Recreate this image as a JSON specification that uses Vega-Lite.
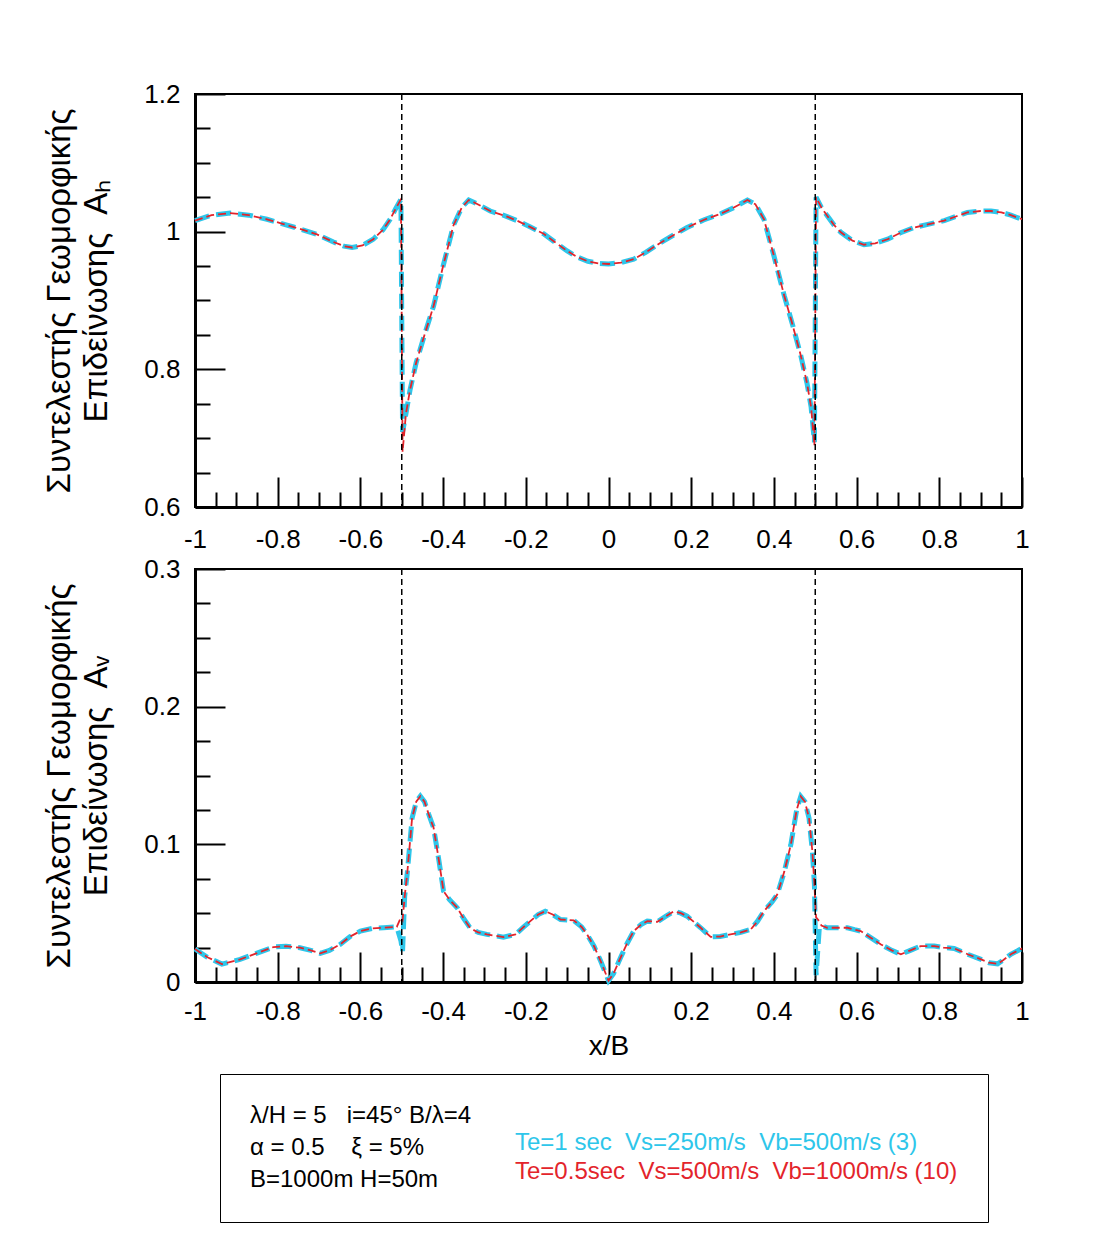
{
  "$schema": "https://vega.github.io/schema/vega-lite/v6.json",
  "background": "white",
  "padding": {"left": 42, "top": 80, "right": 10, "bottom": 10},
  "datasets": {
    "edges": [{"edge": -0.5}, {"edge": 0.5}],
    "ah": [
      {"x": -1.0, "cyan": 1.016, "red": 1.016},
      {"x": -0.96, "cyan": 1.024, "red": 1.024},
      {"x": -0.915, "cyan": 1.027, "red": 1.027},
      {"x": -0.87, "cyan": 1.024, "red": 1.024},
      {"x": -0.826, "cyan": 1.018, "red": 1.018},
      {"x": -0.786, "cyan": 1.011, "red": 1.011},
      {"x": -0.746, "cyan": 1.004, "red": 1.004},
      {"x": -0.705, "cyan": 0.996, "red": 0.996},
      {"x": -0.665, "cyan": 0.985, "red": 0.985},
      {"x": -0.64, "cyan": 0.979, "red": 0.979},
      {"x": -0.62, "cyan": 0.977, "red": 0.977},
      {"x": -0.595, "cyan": 0.98, "red": 0.98},
      {"x": -0.569, "cyan": 0.989, "red": 0.989},
      {"x": -0.545, "cyan": 1.003, "red": 1.003},
      {"x": -0.528, "cyan": 1.018, "red": 1.018},
      {"x": -0.515, "cyan": 1.033, "red": 1.033},
      {"x": -0.502, "cyan": 1.047, "red": 1.047},
      {"x": -0.498, "cyan": 0.709, "red": 0.68},
      {"x": -0.49, "cyan": 0.735, "red": 0.735},
      {"x": -0.48, "cyan": 0.77, "red": 0.77},
      {"x": -0.465, "cyan": 0.81, "red": 0.81},
      {"x": -0.445, "cyan": 0.85, "red": 0.85},
      {"x": -0.423, "cyan": 0.892, "red": 0.892},
      {"x": -0.4, "cyan": 0.95, "red": 0.95},
      {"x": -0.375, "cyan": 1.009, "red": 1.009},
      {"x": -0.355, "cyan": 1.035, "red": 1.035},
      {"x": -0.338, "cyan": 1.046, "red": 1.046},
      {"x": -0.32, "cyan": 1.041, "red": 1.041},
      {"x": -0.286, "cyan": 1.03, "red": 1.03},
      {"x": -0.25, "cyan": 1.023, "red": 1.023},
      {"x": -0.221, "cyan": 1.016, "red": 1.016},
      {"x": -0.19, "cyan": 1.007, "red": 1.007},
      {"x": -0.157, "cyan": 0.997, "red": 0.997},
      {"x": -0.13, "cyan": 0.985, "red": 0.985},
      {"x": -0.1, "cyan": 0.972, "red": 0.972},
      {"x": -0.075, "cyan": 0.963, "red": 0.963},
      {"x": -0.05, "cyan": 0.957, "red": 0.957},
      {"x": -0.025, "cyan": 0.954, "red": 0.954},
      {"x": 0.0, "cyan": 0.953, "red": 0.953},
      {"x": 0.03, "cyan": 0.955, "red": 0.955},
      {"x": 0.061, "cyan": 0.96, "red": 0.96},
      {"x": 0.09, "cyan": 0.97, "red": 0.97},
      {"x": 0.126, "cyan": 0.984, "red": 0.984},
      {"x": 0.16, "cyan": 0.996, "red": 0.996},
      {"x": 0.19, "cyan": 1.006, "red": 1.006},
      {"x": 0.23, "cyan": 1.017, "red": 1.017},
      {"x": 0.271, "cyan": 1.026, "red": 1.026},
      {"x": 0.3, "cyan": 1.034, "red": 1.034},
      {"x": 0.336, "cyan": 1.046, "red": 1.046},
      {"x": 0.355, "cyan": 1.04, "red": 1.04},
      {"x": 0.376, "cyan": 1.018, "red": 1.018},
      {"x": 0.4, "cyan": 0.965, "red": 0.965},
      {"x": 0.425, "cyan": 0.907, "red": 0.907},
      {"x": 0.445, "cyan": 0.865, "red": 0.865},
      {"x": 0.465, "cyan": 0.82, "red": 0.82},
      {"x": 0.48, "cyan": 0.78, "red": 0.78},
      {"x": 0.49, "cyan": 0.745, "red": 0.745},
      {"x": 0.498, "cyan": 0.694, "red": 0.689},
      {"x": 0.502, "cyan": 1.05, "red": 1.05},
      {"x": 0.515, "cyan": 1.035, "red": 1.035},
      {"x": 0.529, "cyan": 1.023, "red": 1.023},
      {"x": 0.545, "cyan": 1.01, "red": 1.01},
      {"x": 0.562, "cyan": 0.999, "red": 0.999},
      {"x": 0.59, "cyan": 0.987, "red": 0.987},
      {"x": 0.618, "cyan": 0.981, "red": 0.981},
      {"x": 0.645, "cyan": 0.983, "red": 0.983},
      {"x": 0.675, "cyan": 0.989, "red": 0.989},
      {"x": 0.705, "cyan": 0.998, "red": 0.998},
      {"x": 0.739, "cyan": 1.006, "red": 1.006},
      {"x": 0.775, "cyan": 1.011, "red": 1.011},
      {"x": 0.812, "cyan": 1.016, "red": 1.016},
      {"x": 0.84, "cyan": 1.022, "red": 1.022},
      {"x": 0.868, "cyan": 1.028, "red": 1.028},
      {"x": 0.9, "cyan": 1.03, "red": 1.03},
      {"x": 0.925, "cyan": 1.03, "red": 1.03},
      {"x": 0.95, "cyan": 1.028, "red": 1.028},
      {"x": 0.973, "cyan": 1.024, "red": 1.024},
      {"x": 1.0, "cyan": 1.018, "red": 1.018}
    ],
    "av": [
      {"x": -1.0, "cyan": 0.024, "red": 0.024},
      {"x": -0.97, "cyan": 0.018, "red": 0.018},
      {"x": -0.935, "cyan": 0.013, "red": 0.013},
      {"x": -0.891, "cyan": 0.0164, "red": 0.0164},
      {"x": -0.85, "cyan": 0.021, "red": 0.021},
      {"x": -0.81, "cyan": 0.0254, "red": 0.0254},
      {"x": -0.78, "cyan": 0.026, "red": 0.026},
      {"x": -0.746, "cyan": 0.0249, "red": 0.0249},
      {"x": -0.72, "cyan": 0.023, "red": 0.023},
      {"x": -0.697, "cyan": 0.0208, "red": 0.0208},
      {"x": -0.675, "cyan": 0.023, "red": 0.023},
      {"x": -0.649, "cyan": 0.0273, "red": 0.0273},
      {"x": -0.625, "cyan": 0.033, "red": 0.033},
      {"x": -0.6, "cyan": 0.037, "red": 0.037},
      {"x": -0.57, "cyan": 0.039, "red": 0.039},
      {"x": -0.544, "cyan": 0.0394, "red": 0.0394},
      {"x": -0.512, "cyan": 0.04, "red": 0.04},
      {"x": -0.502, "cyan": 0.03, "red": 0.047},
      {"x": -0.498, "cyan": 0.022, "red": 0.045},
      {"x": -0.493, "cyan": 0.062, "red": 0.062},
      {"x": -0.487, "cyan": 0.078, "red": 0.078},
      {"x": -0.475, "cyan": 0.119, "red": 0.119},
      {"x": -0.465, "cyan": 0.131, "red": 0.131},
      {"x": -0.455, "cyan": 0.135, "red": 0.135},
      {"x": -0.445, "cyan": 0.131, "red": 0.131},
      {"x": -0.435, "cyan": 0.122, "red": 0.122},
      {"x": -0.423, "cyan": 0.112, "red": 0.112},
      {"x": -0.41, "cyan": 0.088, "red": 0.088},
      {"x": -0.399, "cyan": 0.066, "red": 0.066},
      {"x": -0.385, "cyan": 0.06, "red": 0.06},
      {"x": -0.366, "cyan": 0.054, "red": 0.054},
      {"x": -0.35, "cyan": 0.046, "red": 0.046},
      {"x": -0.334, "cyan": 0.039, "red": 0.039},
      {"x": -0.315, "cyan": 0.036, "red": 0.036},
      {"x": -0.294, "cyan": 0.0346, "red": 0.0346},
      {"x": -0.254, "cyan": 0.0326, "red": 0.0326},
      {"x": -0.225, "cyan": 0.0346, "red": 0.0346},
      {"x": -0.205, "cyan": 0.04, "red": 0.04},
      {"x": -0.189, "cyan": 0.0442, "red": 0.0442},
      {"x": -0.17, "cyan": 0.049, "red": 0.049},
      {"x": -0.153, "cyan": 0.0514, "red": 0.0514},
      {"x": -0.135, "cyan": 0.049, "red": 0.049},
      {"x": -0.116, "cyan": 0.0454, "red": 0.0454},
      {"x": -0.084, "cyan": 0.0447, "red": 0.0447},
      {"x": -0.065, "cyan": 0.04, "red": 0.04},
      {"x": -0.052, "cyan": 0.0346, "red": 0.0346},
      {"x": -0.035, "cyan": 0.026, "red": 0.026},
      {"x": -0.019, "cyan": 0.0152, "red": 0.0152},
      {"x": 0.0, "cyan": 0.001, "red": 0.001},
      {"x": 0.012, "cyan": 0.006, "red": 0.006},
      {"x": 0.029, "cyan": 0.0176, "red": 0.0176},
      {"x": 0.045, "cyan": 0.028, "red": 0.028},
      {"x": 0.061, "cyan": 0.037, "red": 0.037},
      {"x": 0.08, "cyan": 0.042, "red": 0.042},
      {"x": 0.094, "cyan": 0.0442, "red": 0.0442},
      {"x": 0.118, "cyan": 0.0437, "red": 0.0437},
      {"x": 0.14, "cyan": 0.048, "red": 0.048},
      {"x": 0.158, "cyan": 0.0514, "red": 0.0514},
      {"x": 0.175, "cyan": 0.05, "red": 0.05},
      {"x": 0.19, "cyan": 0.0478, "red": 0.0478},
      {"x": 0.205, "cyan": 0.044, "red": 0.044},
      {"x": 0.223, "cyan": 0.0394, "red": 0.0394},
      {"x": 0.247, "cyan": 0.0328, "red": 0.0328},
      {"x": 0.27, "cyan": 0.033, "red": 0.033},
      {"x": 0.295, "cyan": 0.0346, "red": 0.0346},
      {"x": 0.32, "cyan": 0.036, "red": 0.036},
      {"x": 0.344, "cyan": 0.0382, "red": 0.0382},
      {"x": 0.36, "cyan": 0.044, "red": 0.044},
      {"x": 0.376, "cyan": 0.0514, "red": 0.0514},
      {"x": 0.395, "cyan": 0.058, "red": 0.058},
      {"x": 0.408, "cyan": 0.0635, "red": 0.0635},
      {"x": 0.425, "cyan": 0.08, "red": 0.08},
      {"x": 0.441, "cyan": 0.0998, "red": 0.0998},
      {"x": 0.455, "cyan": 0.125, "red": 0.125},
      {"x": 0.465, "cyan": 0.1348, "red": 0.1348},
      {"x": 0.475, "cyan": 0.131, "red": 0.131},
      {"x": 0.485, "cyan": 0.119, "red": 0.119},
      {"x": 0.493, "cyan": 0.095, "red": 0.095},
      {"x": 0.498, "cyan": 0.0708, "red": 0.0708},
      {"x": 0.502, "cyan": 0.005, "red": 0.047},
      {"x": 0.51, "cyan": 0.04, "red": 0.044},
      {"x": 0.515, "cyan": 0.041, "red": 0.041},
      {"x": 0.529, "cyan": 0.0394, "red": 0.0394},
      {"x": 0.555, "cyan": 0.0394, "red": 0.0394},
      {"x": 0.578, "cyan": 0.0394, "red": 0.0394},
      {"x": 0.595, "cyan": 0.038, "red": 0.038},
      {"x": 0.61, "cyan": 0.037, "red": 0.037},
      {"x": 0.635, "cyan": 0.032, "red": 0.032},
      {"x": 0.659, "cyan": 0.0273, "red": 0.0273},
      {"x": 0.685, "cyan": 0.023, "red": 0.023},
      {"x": 0.707, "cyan": 0.0201, "red": 0.0201},
      {"x": 0.73, "cyan": 0.023, "red": 0.023},
      {"x": 0.755, "cyan": 0.0261, "red": 0.0261},
      {"x": 0.788, "cyan": 0.0261, "red": 0.0261},
      {"x": 0.81, "cyan": 0.025, "red": 0.025},
      {"x": 0.836, "cyan": 0.0244, "red": 0.0244},
      {"x": 0.87, "cyan": 0.02, "red": 0.02},
      {"x": 0.901, "cyan": 0.0164, "red": 0.0164},
      {"x": 0.92, "cyan": 0.014, "red": 0.014},
      {"x": 0.941, "cyan": 0.0132, "red": 0.0132},
      {"x": 0.955, "cyan": 0.016, "red": 0.016},
      {"x": 0.973, "cyan": 0.0201, "red": 0.0201},
      {"x": 1.0, "cyan": 0.0244, "red": 0.0244}
    ]
  },
  "vconcat": [
    {
      "width": 827,
      "height": 413,
      "data": {"name": "ah"},
      "layer": [
        {
          "mark": {"type": "line", "strokeWidth": 5, "strokeDash": [15, 7]},
          "encoding": {
            "x": {"field": "x", "type": "quantitative", "scale": {"domain": [-1, 1], "nice": false, "zero": false},
              "axis": {"orient": "bottom", "title": null, "values": [-1, -0.8, -0.6, -0.4, -0.2, 0, 0.2, 0.4, 0.6, 0.8, 1], "tickSize": -30, "labelPadding": 49, "labelExpr": "'' + datum.value"}},
            "y": {"field": "cyan", "type": "quantitative", "scale": {"domain": [0.6, 1.2], "nice": false, "zero": false},
              "axis": {"orient": "left", "title": ["Συντελεστής Γεωμορφικής", "Επιδείνωσης\u00a0 Aₕ"], "titleFontSize": 33, "titleLineHeight": 37, "titlePadding": 30, "values": [0.6, 0.8, 1, 1.2], "tickSize": -30, "labelPadding": 45, "labelExpr": "'' + datum.value"}},
            "color": {"datum": "Te=1 sec\u00a0 Vs=250m/s\u00a0 Vb=500m/s (3)", "type": "nominal",
              "scale": {"domain": ["Te=1 sec\u00a0 Vs=250m/s\u00a0 Vb=500m/s (3)", "Te=0.5sec\u00a0 Vs=500m/s\u00a0 Vb=1000m/s (10)"], "range": ["#2EC6EA", "#E3242B"]},
              "legend": {
                "title": ["λ/H = 5\u00a0\u00a0 i=45° B/λ=4", "α = 0.5\u00a0\u00a0\u00a0 ξ = 5%", "B=1000m H=50m"],
                "orient": "none", "legendX": 25, "legendY": 980,
                "encode": {"labels": {"update": {"fill": {"scale": "color", "field": "value"}, "dy": {"signal": "datum.index === 0 ? 27 : 5"}}}}
              }}
          }
        },
        {
          "mark": {"type": "line", "strokeWidth": 1.8, "strokeDash": [8, 4]},
          "encoding": {
            "x": {"field": "x", "type": "quantitative",
              "axis": {"orient": "bottom", "title": null, "values": [-0.95, -0.9, -0.85, -0.75, -0.7, -0.65, -0.55, -0.5, -0.45, -0.35, -0.3, -0.25, -0.15, -0.1, -0.05, 0.05, 0.1, 0.15, 0.25, 0.3, 0.35, 0.45, 0.5, 0.55, 0.65, 0.7, 0.75, 0.85, 0.9, 0.95], "tickSize": -15, "labels": false, "domain": false}},
            "y": {"field": "red", "type": "quantitative",
              "axis": {"orient": "left", "title": null, "values": [0.65, 0.7, 0.75, 0.85, 0.9, 0.95, 1.05, 1.1, 1.15], "tickSize": -15, "labels": false, "domain": false}},
            "color": {"datum": "Te=0.5sec\u00a0 Vs=500m/s\u00a0 Vb=1000m/s (10)", "type": "nominal"}
          }
        },
        {
          "data": {"name": "edges"},
          "mark": {"type": "rule", "color": "black", "strokeWidth": 1.5, "strokeDash": [6, 4]},
          "encoding": {"x": {"field": "edge", "type": "quantitative", "axis": null}}
        }
      ],
      "resolve": {"axis": {"x": "independent", "y": "independent"}}
    },
    {
      "width": 827,
      "height": 413,
      "data": {"name": "av"},
      "layer": [
        {
          "mark": {"type": "line", "strokeWidth": 5, "strokeDash": [15, 7]},
          "encoding": {
            "x": {"field": "x", "type": "quantitative", "scale": {"domain": [-1, 1], "nice": false, "zero": false},
              "axis": {"orient": "bottom", "title": "x/B", "titleFontSize": 28, "titlePadding": 8, "values": [-1, -0.8, -0.6, -0.4, -0.2, 0, 0.2, 0.4, 0.6, 0.8, 1], "tickSize": -30, "labelPadding": 46, "labelExpr": "'' + datum.value"}},
            "y": {"field": "cyan", "type": "quantitative", "scale": {"domain": [0, 0.3], "nice": false, "zero": false},
              "axis": {"orient": "left", "title": ["Συντελεστής Γεωμορφικής", "Επιδείνωσης\u00a0 Aᵥ"], "titleFontSize": 33, "titleLineHeight": 37, "titlePadding": 30, "values": [0, 0.1, 0.2, 0.3], "tickSize": -30, "labelPadding": 45, "labelExpr": "'' + datum.value"}},
            "color": {"datum": "Te=1 sec\u00a0 Vs=250m/s\u00a0 Vb=500m/s (3)", "type": "nominal"}
          }
        },
        {
          "mark": {"type": "line", "strokeWidth": 1.8, "strokeDash": [8, 4]},
          "encoding": {
            "x": {"field": "x", "type": "quantitative",
              "axis": {"orient": "bottom", "title": null, "values": [-0.95, -0.9, -0.85, -0.75, -0.7, -0.65, -0.55, -0.5, -0.45, -0.35, -0.3, -0.25, -0.15, -0.1, -0.05, 0.05, 0.1, 0.15, 0.25, 0.3, 0.35, 0.45, 0.5, 0.55, 0.65, 0.7, 0.75, 0.85, 0.9, 0.95], "tickSize": -15, "labels": false, "domain": false}},
            "y": {"field": "red", "type": "quantitative",
              "axis": {"orient": "left", "title": null, "values": [0.025, 0.05, 0.075, 0.125, 0.15, 0.175, 0.225, 0.25, 0.275], "tickSize": -15, "labels": false, "domain": false}},
            "color": {"datum": "Te=0.5sec\u00a0 Vs=500m/s\u00a0 Vb=1000m/s (10)", "type": "nominal"}
          }
        },
        {
          "data": {"name": "edges"},
          "mark": {"type": "rule", "color": "black", "strokeWidth": 1.5, "strokeDash": [6, 4]},
          "encoding": {"x": {"field": "edge", "type": "quantitative", "axis": null}}
        }
      ],
      "resolve": {"axis": {"x": "independent", "y": "independent"}}
    }
  ],
  "spacing": 2,
  "resolve": {"scale": {"y": "independent", "color": "shared"}, "legend": {"color": "shared"}},
  "config": {
    "font": "Liberation Sans",
    "view": {"stroke": "black", "strokeWidth": 2},
    "axis": {"grid": false, "labelFont": "Liberation Sans", "labelFontSize": 26, "labelColor": "black", "tickColor": "black", "tickWidth": 2, "domainColor": "black", "domainWidth": 3, "labelFlush": false, "labelOverlap": false, "titleFont": "Liberation Sans", "titleFontWeight": "normal", "titleColor": "black"},
    "legend": {
      "direction": "vertical",
      "titleOrient": "left",
      "titleFontSize": 24,
      "titleFont": "Liberation Sans",
      "titleFontWeight": "normal",
      "titleColor": "black",
      "titleLineHeight": 32,
      "titleAnchor": "start",
      "titleBaseline": "top",
      "titleLimit": 400,
      "titlePadding": 19,
      "labelFont": "Liberation Sans",
      "labelFontSize": 24,
      "labelLimit": 0,
      "symbolSize": 0,
      "symbolOpacity": 0,
      "symbolStrokeWidth": 0,
      "labelOffset": 0,
      "strokeColor": "black",
      "padding": 30,
      "rowPadding": 0
    }
  }
}
